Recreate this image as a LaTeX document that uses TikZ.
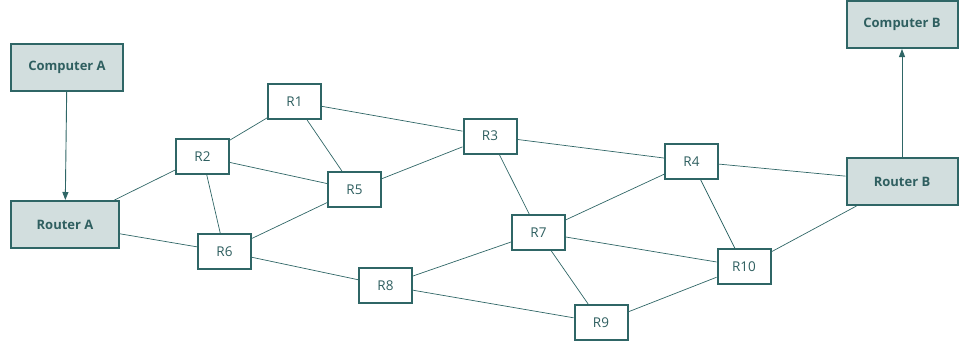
\documentclass[tikz,border=0pt]{standalone}
\usepackage{fontspec}
\setmainfont{Open Sans}
\usetikzlibrary{arrows.meta}
\definecolor{edge}{HTML}{2F6666}
\definecolor{boxfill}{HTML}{D2DEDE}
\definecolor{txt}{HTML}{2F5F60}
\tikzset{
  rbox/.style={draw=edge, line width=2pt, fill=white, minimum width=53pt, minimum height=35pt, inner sep=0pt, text=txt, font=\fontsize{13.5}{15}\selectfont},
  bigbox/.style={draw=edge, line width=2pt, fill=boxfill, minimum width=110pt, minimum height=47pt, inner sep=0pt, text=txt, font=\bfseries\fontsize{13}{15}\selectfont},
  link/.style={draw=edge, line width=0.7pt},
  arr/.style={draw=edge, line width=0.9pt, -{Triangle[length=8pt,width=6pt]}}
}
\begin{document}
\begin{tikzpicture}[x=1pt,y=-1pt]
\useasboundingbox (0,0) rectangle (960,348);
\node[bigbox, minimum width=112pt] (ca) at (67,67) {Computer A};
\node[bigbox, minimum width=108pt] (ra) at (65,224.5) {Router A};
\node[bigbox, minimum width=111pt] (cb) at (902,24.5) {Computer B};
\node[bigbox, minimum width=111pt] (rb) at (902,181.5) {Router B};
\node[rbox] (r1) at (294.5,101.5) {R1};
\node[rbox] (r2) at (202.5,156.5) {R2};
\node[rbox] (r3) at (490,136) {R3};
\node[rbox] (r4) at (691.5,161.5) {R4};
\node[rbox] (r5) at (354.5,189.5) {R5};
\node[rbox] (r6) at (224.5,251.5) {R6};
\node[rbox] (r7) at (538.5,232.5) {R7};
\node[rbox] (r8) at (385.5,285.5) {R8};
\node[rbox] (r9) at (601,322.5) {R9};
\node[rbox] (r10) at (744,266.5) {R10};
\foreach \a/\b in {ra/r2, ra/r6, r2/r1, r2/r5, r2/r6, r1/r5, r1/r3, r6/r5, r6/r8, r5/r3, r3/r4, r3/r7, r4/rb, r4/r7, r4/r10, r7/r8, r7/r10, r7/r9, r8/r9, r9/r10, r10/rb}
  \draw[link] (\a) -- (\b);
\draw[arr] (ca) -- (ra);
\draw[arr] (rb) -- (cb);
\end{tikzpicture}
\end{document}
